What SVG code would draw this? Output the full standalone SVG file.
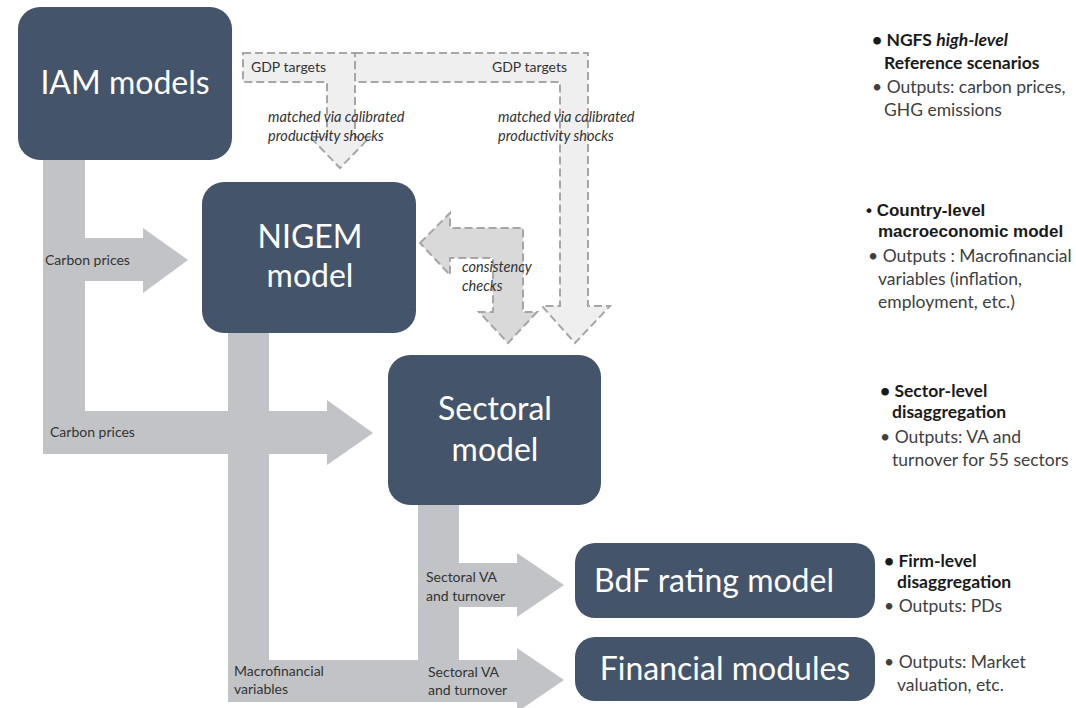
<svg xmlns="http://www.w3.org/2000/svg" width="1076" height="708" viewBox="0 0 1076 708">
<style>
.node{fill:#44546a}
.nt{font-family:Lato,"Open Sans",sans-serif;font-size:32px;fill:#ffffff;text-anchor:middle}
.flow{fill:#c1c3c6}
.dash{fill:#efefef;stroke:#a6a6a6;stroke-width:2;stroke-dasharray:8 4}
.dash2{fill:#d9d9d9;stroke:#a6a6a6;stroke-width:2;stroke-dasharray:8 4}
.lbl{font-family:Lato,"Open Sans",sans-serif;font-size:14px;fill:#333333}
.it{font-family:Lato,"Open Sans",sans-serif;font-size:14.5px;fill:#333333;font-style:italic}
.side{font-family:Lato,"Open Sans",sans-serif;font-size:17.5px;fill:#404040}
.sideb{font-family:Lato,"Open Sans",sans-serif;font-size:17.5px;fill:#1a1a1a;font-weight:bold}
.sidea{font-family:"Liberation Sans",Arial,sans-serif;font-size:17px;fill:#1a1a1a;font-weight:bold}
</style>
<rect width="1076" height="708" fill="#ffffff"/>
<g id="connectors">
  <rect class="flow" x="43" y="160" width="42" height="294"/>
  <polygon class="flow" points="85,238 143,238 143,228 188,260 143,293 143,281 85,281"/>
  <polygon class="flow" points="43,411 327,411 327,400 373,433 327,465 327,454 43,454"/>
  <rect class="flow" x="228" y="333" width="41" height="369"/>
  <polygon class="flow" points="228,660 517,660 517,648 564,680 517,712 517,702 228,702"/>
  <rect class="flow" x="418" y="505" width="41" height="156"/>
  <polygon class="flow" points="459,563 517,563 517,553 564,585 517,617 517,607 459,607"/>
  <polygon class="dash" points="355,53 588,53 588,306 610,306 575,343 542,306 560,306 560,82 355,82"/>
  <polygon class="dash" points="243,53 355,53 355,137 370,137 340,168 310,137 327,137 327,82 243,82"/>
  <polygon class="dash2" points="420,243 450,213 450,228 523,228 523,312 537,312 508,343 479,312 493,312 493,258 450,258 450,275"/>
  <text class="lbl" x="251" y="72">GDP targets</text>
  <text class="lbl" x="492" y="72">GDP targets</text>
  <text class="it" x="268" y="122">matched via calibrated</text>
  <text class="it" x="268" y="141">productivity shocks</text>
  <text class="it" x="498" y="122">matched via calibrated</text>
  <text class="it" x="498" y="141">productivity shocks</text>
  <text class="it" x="462" y="272">consistency</text>
  <text class="it" x="462" y="291">checks</text>
  <text class="lbl" x="45" y="265">Carbon prices</text>
  <text class="lbl" x="50" y="437">Carbon prices</text>
  <text class="lbl" x="234" y="676">Macrofinancial</text>
  <text class="lbl" x="234" y="694">variables</text>
  <text class="lbl" x="426" y="582">Sectoral VA</text>
  <text class="lbl" x="426" y="601">and turnover</text>
  <text class="lbl" x="428" y="677">Sectoral VA</text>
  <text class="lbl" x="428" y="695">and turnover</text>
</g>
<g id="iam">
  <rect class="node" x="18" y="7" width="214" height="153" rx="22"/>
  <text class="nt" x="125" y="94">IAM models</text>
</g>
<g id="nigem">
  <rect class="node" x="202" y="182" width="214" height="151" rx="22"/>
  <text class="nt" x="310" y="248">NIGEM</text>
  <text class="nt" x="310" y="287">model</text>
</g>
<g id="sectoral">
  <rect class="node" x="388" y="355" width="213" height="150" rx="22"/>
  <text class="nt" x="495" y="420">Sectoral</text>
  <text class="nt" x="495" y="461">model</text>
</g>
<g id="bdf">
  <rect class="node" x="575" y="543" width="300" height="75" rx="20"/>
  <text class="nt" x="714" y="592">BdF rating model</text>
</g>
<g id="financial">
  <rect class="node" x="575" y="637" width="300" height="64" rx="20"/>
  <text class="nt" x="725" y="680">Financial modules</text>
</g>
<g id="notes">
  <text class="sideb" x="872" y="46">• NGFS <tspan font-style="italic">high-level</tspan></text>
  <text class="sideb" x="884" y="69">Reference scenarios</text>
  <text class="side" x="872" y="93">• Outputs: carbon prices,</text>
  <text class="side" x="884" y="116">GHG emissions</text>

  <text class="sidea" x="866" y="216">• Country-level</text>
  <text class="sidea" x="878" y="237">macroeconomic model</text>
  <text class="side" x="868" y="262">• Outputs : Macrofinancial</text>
  <text class="side" x="878" y="285">variables (inflation,</text>
  <text class="side" x="878" y="308">employment, etc.)</text>

  <text class="sideb" x="880" y="397">• Sector-level</text>
  <text class="sideb" x="892" y="418">disaggregation</text>
  <text class="side" x="880" y="443">• Outputs: VA and</text>
  <text class="side" x="892" y="466">turnover for 55 sectors</text>

  <text class="sideb" x="884" y="567">• Firm-level</text>
  <text class="sideb" x="897" y="588">disaggregation</text>
  <text class="side" x="884" y="612">• Outputs: PDs</text>

  <text class="side" x="884" y="668">• Outputs: Market</text>
  <text class="side" x="897" y="691">valuation, etc.</text>
</g>
</svg>
